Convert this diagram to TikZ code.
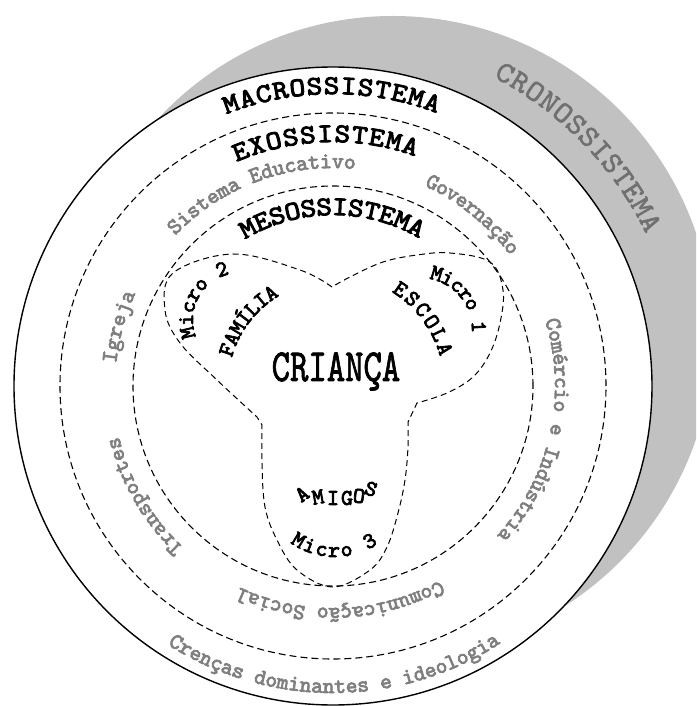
\documentclass[tikz,border=0pt]{standalone}
\usepackage{fontspec}
\usetikzlibrary{positioning}
\newfontfamily\heavymono{lmmono10-regular.otf}[FakeBold=3.4]
\newfontfamily\plainmono{lmmono10-regular.otf}[FakeBold=1.8]
\definecolor{cronofill}{HTML}{C0C1C0}
\definecolor{labelgray}{HTML}{7F7F7F}
\definecolor{cronogray}{HTML}{707070}

% letters set one by one on an arc round (#2)
\newcommand{\arcword}[8]{%
  \begin{scope}[shift={(#2)}]
    \foreach \ch [count=\k] in {#8} {
      \pgfmathsetmacro{\ang}{#4+(\k-1)*(#5)}
      \node[anchor=base, inner sep=0pt, rotate=\ang+(#6), #7] (#1-\k) at (\ang:#3) {\ch};
    }
  \end{scope}}

\begin{document}
\begin{tikzpicture}[x=1pt, y=1pt,
  ring/.style={line width=1.1pt, dash pattern=on 7pt off 4pt},
  lobe/.style={line width=1pt, dash pattern=on 6pt off 4pt},
  sysname/.style={font=\heavymono\fontsize{27}{27}\selectfont, xscale=1.1},
  exolabel/.style={font=\heavymono\fontsize{22.5}{22.5}\selectfont, text=labelgray},
  microlabel/.style={font=\heavymono\fontsize{22.5}{22.5}\selectfont},
  cronolabel/.style={font=\plainmono\fontsize{30}{30}\selectfont, text=cronogray, xscale=1.05}]

  \useasboundingbox (-333,-320) rectangle (363,386);
  \clip (-333,-320) rectangle (363,386);
  \coordinate (centre) at (0,0);

  % circles
  \fill[cronofill] (60,50) circle (320);
  \draw[line width=1.4pt, fill=white] (centre) circle (319);
  \draw[ring] (centre) circle (273);
  \draw[ring] (centre) circle (200);

  % the three micro systems
  \draw[lobe] plot[smooth, tension=0.6] coordinates {(-1,99) (-33,116) (-100,132) (-160,113) (-168,76) (-153,43) (-116,6) (-76,-31)}
    -- plot[smooth, tension=0.6] coordinates {(-71,-39) (-71,-77) (-68,-121) (-56,-154) (-36,-184) (0,-201) (37,-184) (54,-161) (65,-127) (72,-94) (75,-61) (75,-36)}
    -- plot[smooth, tension=0.6] coordinates {(84,-17) (114,-7) (140,9) (157,33) (167,63) (170,96) (157,124) (117,133) (84,131) (50,124) (17,109) (-1,99)};

  % system names
  \arcword{crono}{0,0}{348}{61.2}{-2.83}{-90}{cronolabel}{C,R,O,N,O,S,S,I,S,T,E,M,A}
  \arcword{macro}{0,0}{292}{109.9}{-3.27}{-90}{sysname}{M,A,C,R,O,S,S,I,S,T,E,M,A}
  \arcword{exo}{0,0}{244}{111.5}{-3.94}{-90}{sysname}{E,X,O,S,S,I,S,T,E,M,A}
  \arcword{meso}{0,0}{171}{118.4}{-5.11}{-90}{sysname}{M,E,S,O,S,S,I,S,T,E,M,A}

  % exosystem
  \arcword{educ}{0,0}{218}{134.8}{-3.07}{-90}{exolabel}{S,i,s,t,e,m,a,{},E,d,u,c,a,t,i,v,o}
  \arcword{gov}{0,0}{220}{63.9}{-2.9}{-90}{exolabel}{G,o,v,e,r,n,a,ç,ã,o}
  \arcword{comercio}{0,0}{222}{15.7}{-2.98}{-90}{exolabel}{C,o,m,é,r,c,i,o,{},e,{},I,n,d,ú,s,t,r,i,a}
  \arcword{media}{0,0}{222}{-62.7}{-2.99}{-90}{exolabel}{C,o,m,u,n,i,c,a,ç,ã,o,{},S,o,c,i,a,l}
  \arcword{transp}{0,0}{220}{225.7}{-3.09}{-90}{exolabel}{T,r,a,n,s,p,o,r,t,e,s}
  \arcword{igreja}{0,0}{218}{172.5}{-3.2}{-90}{exolabel}{I,g,r,e,j,a}

  % macrosystem
  \arcword{crencas}{0,0}{307}{238.5}{2.19}{90}{exolabel}{C,r,e,n,ç,a,s,{},d,o,m,i,n,a,n,t,e,s,{},e,{},i,d,e,o,l,o,g,i,a}

  % microsystems
  \arcword{microtwo}{-93,66}{47}{193.8}{-14}{-90}{microlabel}{M,i,c,r,o,{},2}
  \arcword{familia}{0,0}{105}{161.2}{-6.23}{-90}{microlabel}{F,A,M,Í,L,I,A}
  \arcword{microone}{87,56}{52}{73.4}{-11.7}{-90}{microlabel}{M,i,c,r,o,{},1}
  \arcword{escola}{0,0}{111}{55.1}{-7.34}{-90}{microlabel}{E,S,C,O,L,A}
  \arcword{microthree}{2,-94}{77}{238.9}{10.1}{90}{microlabel}{M,i,c,r,o,{},3}
  \foreach \ch/\x/\y/\r [count=\k] in {A/-31/-108/35, M/-15/-111/10, I/0/-112/0, G/14/-112/0, O/26/-110/-5, S/38/-103/-20}
    \node[microlabel, rotate=\r, inner sep=0pt] (amigos-\k) at (\x,\y) {\ch};

  \node[font=\plainmono\fontsize{46}{46}\selectfont, xscale=0.76, anchor=base] (crianca) at (3,5) {CRIANÇA};
\end{tikzpicture}
\end{document}
